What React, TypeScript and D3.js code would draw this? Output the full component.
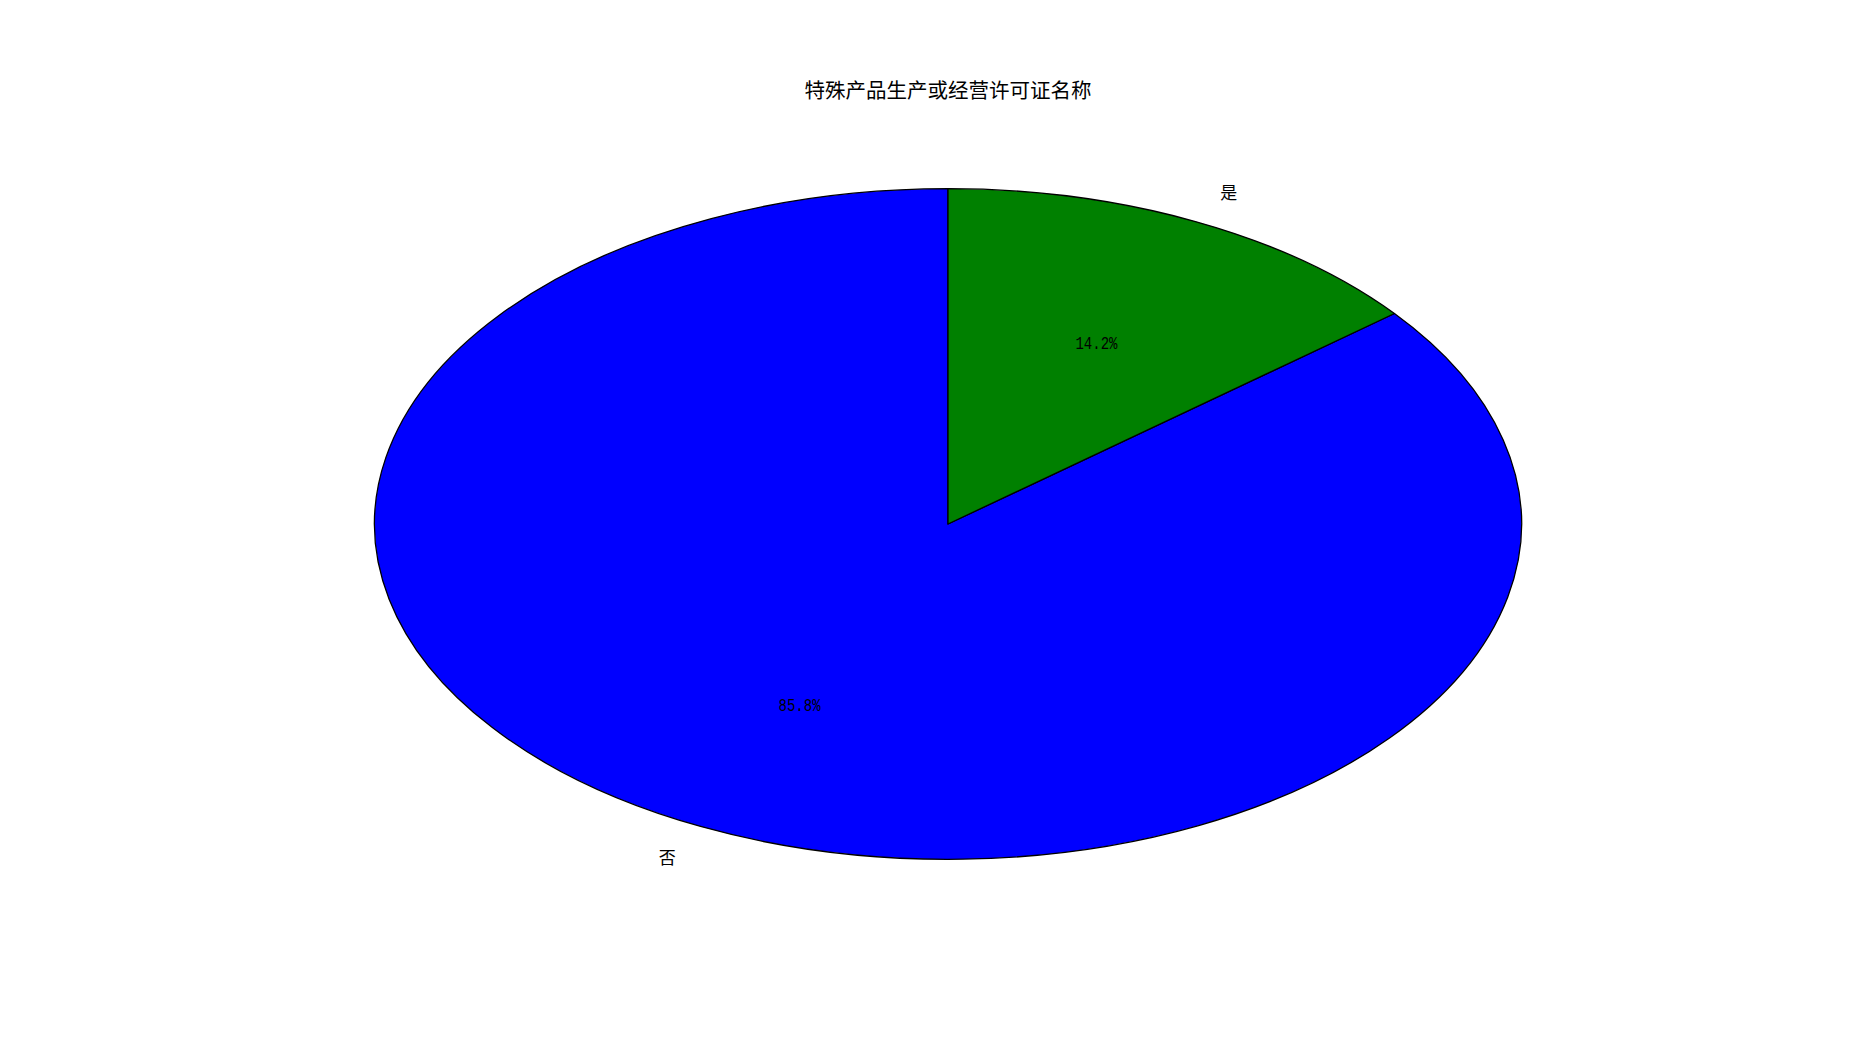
import { useEffect } from "react";
import * as d3 from "d3";

// 特殊产品生产或经营许可证名称 — share of yes / no
const labels = ["否", "是"];
const values = [85.8, 14.2];
const colors = ["#0000ff", "#008000"];
const title = "特殊产品生产或经营许可证名称";

const W = 1850;
const H = 1050;

export default function App() {
  useEffect(() => {
    document.body.style.margin = "0";
  }, []);

  const cx = 948;
  const cy = 524;
  const rx = 573.5;
  const ry = 335.3;

  // matplotlib style: start at 90°, go counter-clockwise
  const pie = d3
    .pie<number>()
    .sort(null)
    .startAngle(0)
    .endAngle(-2 * Math.PI);
  const arcs = pie(values);
  const arc = d3.arc<d3.PieArcDatum<number>>().innerRadius(0).outerRadius(rx);
  const total = d3.sum(values);

  const pos = (a: number, r: number) => ({
    x: cx + r * rx * Math.sin(a),
    y: cy - r * ry * Math.cos(a),
  });

  const font = "'Noto Sans CJK SC', 'Noto Sans', sans-serif";

  return (
    <svg width={W} height={H} style={{ display: "block", background: "#fff" }}>
      <text
        x={cx}
        y={89}
        textAnchor="middle"
        dominantBaseline="central"
        fontFamily={font}
        fontSize={20.5}
        fill="#000"
      >
        {title}
      </text>

      <g transform={`translate(${cx},${cy}) scale(1,${ry / rx})`}>
        {arcs.map((d, i) => (
          <path
            key={labels[i]}
            d={arc(d) ?? ""}
            fill={colors[i]}
            stroke="#000"
            strokeWidth={1.3}
            vectorEffect="non-scaling-stroke"
            strokeLinejoin="round"
          />
        ))}
      </g>

      {arcs.map((d, i) => {
        const mid = (d.startAngle + d.endAngle) / 2;
        const lp = pos(mid, 1.1);
        const pp = pos(mid, 0.6);
        const right = Math.sin(mid) > 0;
        const pct = ((d.value / total) * 100).toFixed(1) + "%";
        return (
          <g key={"lbl" + i}>
            <text
              x={lp.x}
              y={lp.y}
              textAnchor={right ? "start" : "end"}
              dominantBaseline="central"
              fontFamily={font}
              fontSize={17}
              fill="#000"
            >
              {labels[i]}
            </text>
            <text
              x={pp.x}
              y={pp.y + 1}
              textAnchor="middle"
              dominantBaseline="central"
              fontFamily="'Liberation Mono', 'DejaVu Sans Mono', monospace"
              fontSize={18}
              fill="#000"
              textLength={42}
              lengthAdjust="spacingAndGlyphs"
            >
              {pct}
            </text>
          </g>
        );
      })}
    </svg>
  );
}
